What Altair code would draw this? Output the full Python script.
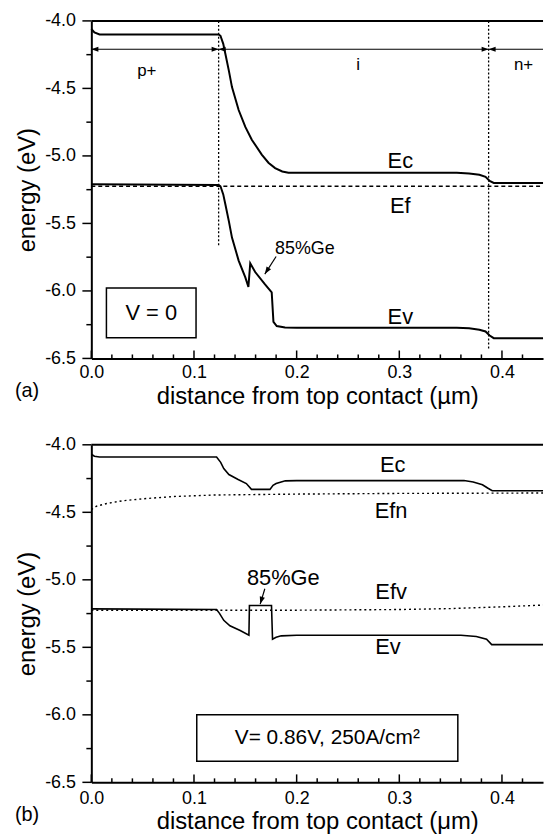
import math
import altair as alt
import pandas as pd

# ---------------- data: panel (a)  V = 0 ----------------
a_ec_x = [0.0, 0.003, 0.008, 0.124, 0.1258, 0.1285, 0.1306, 0.134, 0.137, 0.1435, 0.150, 0.1563,
          0.166, 0.1725, 0.179, 0.186, 0.192, 0.200, 0.356, 0.368, 0.378, 0.384, 0.388, 0.392, 0.440]
a_ec_y = [-4.06, -4.085, -4.10, -4.10, -4.11, -4.17, -4.245, -4.37, -4.49, -4.66, -4.785, -4.88,
          -4.99, -5.05, -5.09, -5.115, -5.125, -5.125, -5.125, -5.13, -5.14, -5.155, -5.185, -5.20, -5.20]
a_ev_x = [0.0, 0.124, 0.1258, 0.1285, 0.1306, 0.134, 0.137, 0.1435, 0.150, 0.153, 0.1548, 0.1596,
          0.169, 0.1757, 0.1774, 0.1806, 0.1887, 0.200, 0.356, 0.368, 0.378, 0.384, 0.388, 0.392, 0.440]
a_ev_y = [-5.21, -5.215, -5.225, -5.285, -5.36, -5.485, -5.605, -5.775, -5.90, -5.97, -5.795, -5.86,
          -5.95, -6.01, -6.23, -6.26, -6.27, -6.272, -6.272, -6.277, -6.287, -6.30, -6.33, -6.35, -6.35]
a_ef_x = [0.0, 0.440]
a_ef_y = [-5.225, -5.225]
a_vlines_x = [0.124, 0.387]
a_vlines_top = [-4.0, -4.0]
a_vlines_bot = [-5.67, -6.43]
a_region_x1 = [0.0, 0.124, 0.387]
a_region_x2 = [0.124, 0.387, 0.440]
a_region_y = -4.21
a_region_names = ["p+", "i", "n+"]
a_region_label_x = [0.054, 0.260, 0.421]
a_region_label_y = [-4.37, -4.33, -4.33]
a_band_labels = ["Ec", "Ef", "Ev"]
a_band_label_x = [0.301, 0.301, 0.301]
a_band_label_y = [-5.04, -5.375, -6.19]
a_ge_text = "85%Ge"
a_ge_text_xy = (0.208, -5.69)
a_ge_arrow = (0.180, -5.745, 0.169, -5.875)
a_box = (0.0147, 0.102, -5.978, -6.346)
a_box_text = "V = 0"

# ---------------- data: panel (b)  V = 0.86 V ----------------
b_ec_x = [0.0, 0.003, 0.008, 0.122, 0.126, 0.129, 0.134, 0.143, 0.151, 0.156, 0.174, 0.177, 0.180,
          0.189, 0.200, 0.363, 0.372, 0.381, 0.386, 0.3905, 0.440]
b_ec_y = [-4.07, -4.085, -4.09, -4.09, -4.13, -4.176, -4.22, -4.257, -4.287, -4.33, -4.33, -4.30,
          -4.287, -4.267, -4.265, -4.265, -4.275, -4.296, -4.32, -4.34, -4.34]
b_efn_x = [0.0, 0.005, 0.015, 0.030, 0.050, 0.080, 0.120, 0.200, 0.300, 0.440]
b_efn_y = [-4.48, -4.455, -4.435, -4.415, -4.40, -4.383, -4.372, -4.365, -4.36, -4.357]
b_ev_x = [0.0, 0.122, 0.125, 0.129, 0.135, 0.145, 0.1535, 0.154, 0.1755, 0.1765, 0.180, 0.185,
          0.200, 0.360, 0.375, 0.385, 0.390, 0.440]
b_ev_y = [-5.215, -5.22, -5.25, -5.30, -5.34, -5.375, -5.41, -5.19, -5.19, -5.44, -5.425, -5.415,
          -5.41, -5.41, -5.42, -5.44, -5.48, -5.48]
b_efv_x = [0.0, 0.200, 0.300, 0.350, 0.400, 0.440]
b_efv_y = [-5.225, -5.225, -5.22, -5.213, -5.20, -5.187]
b_band_labels = ["Ec", "Efn", "Efv", "Ev"]
b_band_label_x = [0.2935, 0.292, 0.292, 0.289]
b_band_label_y = [-4.15, -4.49, -5.09, -5.50]
b_ge_text = "85%Ge"
b_ge_text_xy = (0.187, -4.99)
b_ge_arrow = (0.169, -5.066, 0.1645, -5.18)
b_box = (0.1027, 0.357, -6.0, -6.343)
b_box_text = "V= 0.86V, 250A/cm\u00b2"

# ---------------- axes ----------------
x_major = [0.0, 0.1, 0.2, 0.3, 0.4]
x_minor = [0.02, 0.04, 0.06, 0.08, 0.12, 0.14, 0.16, 0.18, 0.22, 0.24, 0.26, 0.28,
           0.32, 0.34, 0.36, 0.38, 0.42]
y_major = [-4.0, -4.5, -5.0, -5.5, -6.0, -6.5]
y_minor = [-4.25, -4.75, -5.25, -5.75, -6.25]
XD = [0.0, 0.44]
YD = [-6.5, -4.0]

W, H = 455, 340
FONT = "Liberation Sans"


def xsc():
    return alt.Scale(domain=XD, nice=False, zero=False)


def ysc():
    return alt.Scale(domain=YD, nice=False, zero=False)


def series_df(d):
    rows = []
    for name, (xv, yv) in d.items():
        for i, (a, b) in enumerate(zip(xv, yv)):
            rows.append({"s": name, "x": a, "y": b, "o": i})
    return pd.DataFrame(rows)


def arrow_angle(x0, y0, x1, y1):
    dx = (x1 - x0) * W / (XD[1] - XD[0])
    dy = -(y1 - y0) * H / (YD[1] - YD[0])
    ang = math.degrees(math.atan2(dy, dx))
    return ang % 360


HEAD = "M0,0L-1,-0.36L-1,0.36Z"


def panel(solid, dashed, dash, line_w, labels, label_size, ge_text, ge_xy, ge_size, ge_arrow,
          box, box_text, box_size, letter, letter_y, xtitle, lab_pad, title_pad, extra_fn=None):
    xa = alt.Axis(values=x_major, labelExpr="format(datum.value, '.1f')", ticks=False, tickSize=0,
                  domain=True, domainColor="black", domainWidth=2, grid=False, labelFlush=False,
                  labelFont=FONT, labelFontSize=18, labelColor="black", labelPadding=lab_pad,
                  title=xtitle, titleFont=FONT, titleFontSize=24, titleFontWeight="normal",
                  titleColor="black", titlePadding=title_pad)
    ya = alt.Axis(values=y_major,
                  labelExpr="(datum.value < 0 ? '-' : '') + format(abs(datum.value), '.1f')",
                  ticks=False, tickSize=0, domain=True, domainColor="black", domainWidth=2,
                  grid=False, labelFlush=False, labelFont=FONT, labelFontSize=18, labelColor="black",
                  labelPadding=16, title="energy (eV)", titleFont=FONT, titleFontSize=24,
                  titleFontWeight="normal", titleColor="black", titlePadding=5)

    def X(f):
        return alt.X(f, scale=xsc(), axis=xa)

    def Y(f):
        return alt.Y(f, scale=ysc(), axis=ya)

    sdf = series_df(solid)
    layers = []
    layers.append(alt.Chart(sdf).mark_line(color="black", strokeWidth=line_w).encode(
        x=X("x:Q"), y=Y("y:Q"), detail="s:N", order="o:Q"))
    ddf = series_df(dashed)
    layers.append(alt.Chart(ddf).mark_line(color="black", strokeWidth=1.4, strokeDash=dash).encode(
        x=X("x:Q"), y=Y("y:Q"), detail="s:N", order="o:Q"))
    if extra_fn is not None:
        layers.extend(extra_fn(X, Y))

    # ticks
    layers.append(alt.Chart(pd.DataFrame({"t": x_major})).mark_rule(color="black", strokeWidth=1.5).encode(
        x=X("t:Q"), y=alt.value(H), y2=alt.value(H - 8)))
    layers.append(alt.Chart(pd.DataFrame({"t": x_minor})).mark_rule(color="black", strokeWidth=1.5).encode(
        x=X("t:Q"), y=alt.value(H), y2=alt.value(H - 4)))
    layers.append(alt.Chart(pd.DataFrame({"t": y_major})).mark_rule(color="black", strokeWidth=1.5).encode(
        y=Y("t:Q"), x=alt.value(0), x2=alt.value(-9)))
    layers.append(alt.Chart(pd.DataFrame({"t": y_minor})).mark_rule(color="black", strokeWidth=1.5).encode(
        y=Y("t:Q"), x=alt.value(0), x2=alt.value(-5)))
    # top frame
    layers.append(alt.Chart(pd.DataFrame({"t": [0]})).mark_rule(color="black", strokeWidth=2).encode(
        x=alt.value(0), x2=alt.value(W), y=alt.value(0)))

    # band labels
    ldf = pd.DataFrame(labels)
    layers.append(alt.Chart(ldf).mark_text(font=FONT, fontSize=label_size, color="black",
                                           align="center", baseline="middle").encode(
        x=X("x:Q"), y=Y("y:Q"), text="t:N"))

    # 85%Ge text + arrow
    layers.append(alt.Chart(pd.DataFrame({"x": [ge_xy[0]], "y": [ge_xy[1]], "t": [ge_text]})).mark_text(
        font=FONT, fontSize=ge_size, color="black", align="center", baseline="middle").encode(
        x=X("x:Q"), y=Y("y:Q"), text="t:N"))
    x0, y0, x1, y1 = ge_arrow
    layers.append(alt.Chart(pd.DataFrame({"x": [x0], "x2": [x1], "y": [y0], "y2": [y1]})).mark_rule(
        color="black", strokeWidth=1.2).encode(
        x=X("x:Q"), x2="x2:Q", y=Y("y:Q"), y2="y2:Q"))
    layers.append(alt.Chart(pd.DataFrame({"x": [x1], "y": [y1]})).mark_point(
        shape=HEAD, filled=True, color="black", opacity=1, size=220,
        angle=arrow_angle(x0, y0, x1, y1)).encode(
        x=X("x:Q"), y=Y("y:Q")))

    # box with text
    bx1, bx2, by1, by2 = box
    layers.append(alt.Chart(pd.DataFrame({"x": [bx1], "x2": [bx2], "y": [by1], "y2": [by2]})).mark_rect(
        filled=False, stroke="black", strokeWidth=1.5).encode(
        x=X("x:Q"), x2="x2:Q", y=Y("y:Q"), y2="y2:Q"))
    layers.append(alt.Chart(pd.DataFrame({"x": [(bx1 + bx2) / 2], "y": [(by1 + by2) / 2],
                                          "t": [box_text]})).mark_text(
        font=FONT, fontSize=box_size, color="black", align="center", baseline="middle").encode(
        x=X("x:Q"), y=Y("y:Q"), text="t:N"))

    # panel letter
    layers.append(alt.Chart(pd.DataFrame({"t": [letter]})).mark_text(
        font=FONT, fontSize=20, color="black", align="left", baseline="middle").encode(
        x=alt.value(-77), y=alt.value(H + letter_y), text="t:N"))

    return alt.layer(*layers).properties(width=W, height=H)


def a_extra(X, Y):
    vdf = pd.DataFrame({"x": a_vlines_x, "y": a_vlines_top, "y2": a_vlines_bot})
    return [
        alt.Chart(vdf).mark_rule(color="black", strokeWidth=1.3, strokeDash=[2, 2]).encode(
            x=X("x:Q"), y=Y("y:Q"), y2="y2:Q"),
        alt.Chart(pd.DataFrame({"x": a_region_x1, "x2": a_region_x2,
                                "y": [a_region_y] * 3})).mark_rule(color="black", strokeWidth=1.2).encode(
            x=X("x:Q"), x2="x2:Q", y=Y("y:Q")),
        alt.Chart(pd.DataFrame({"x": a_region_x1, "y": [a_region_y] * 3})).mark_point(
            shape=HEAD, filled=True, color="black", opacity=1, size=200, angle=180).encode(
            x=X("x:Q"), y=Y("y:Q")),
        alt.Chart(pd.DataFrame({"x": a_region_x2[:2], "y": [a_region_y] * 2})).mark_point(
            shape=HEAD, filled=True, color="black", opacity=1, size=200, angle=0).encode(
            x=X("x:Q"), y=Y("y:Q")),
        alt.Chart(pd.DataFrame({"x": a_region_label_x, "y": a_region_label_y,
                                "t": a_region_names})).mark_text(
            font=FONT, fontSize=17, color="black", align="center", baseline="middle").encode(
            x=X("x:Q"), y=Y("y:Q"), text="t:N"),
    ]


top = panel(
    solid={"Ec": (a_ec_x, a_ec_y), "Ev": (a_ev_x, a_ev_y)},
    dashed={"Ef": (a_ef_x, a_ef_y)}, dash=[4, 3], line_w=2.0,
    labels={"x": a_band_label_x, "y": a_band_label_y, "t": a_band_labels}, label_size=22,
    ge_text=a_ge_text, ge_xy=a_ge_text_xy, ge_size=18, ge_arrow=a_ge_arrow,
    box=a_box, box_text=a_box_text, box_size=22, letter="(a)", letter_y=33,
    xtitle="distance from top contact (\u00b5m)", lab_pad=5, title_pad=3, extra_fn=a_extra)

bottom = panel(
    solid={"Ec": (b_ec_x, b_ec_y), "Ev": (b_ev_x, b_ev_y)},
    dashed={"Efn": (b_efn_x, b_efn_y), "Efv": (b_efv_x, b_efv_y)}, dash=[2, 3], line_w=1.6,
    labels={"x": b_band_label_x, "y": b_band_label_y, "t": b_band_labels}, label_size=22,
    ge_text=b_ge_text, ge_xy=b_ge_text_xy, ge_size=22, ge_arrow=b_ge_arrow,
    box=b_box, box_text=b_box_text, box_size=21, letter="(b)", letter_y=33,
    xtitle="distance from top contact (\u03bcm)", lab_pad=7, title_pad=3)

chart = alt.vconcat(top, bottom, spacing=28).properties(
    padding={"left": 15, "top": 9, "right": 0, "bottom": 0},
    background="white",
).configure_view(stroke=None)

chart.save("out.html", embed_options={"renderer": "svg", "actions": False})
